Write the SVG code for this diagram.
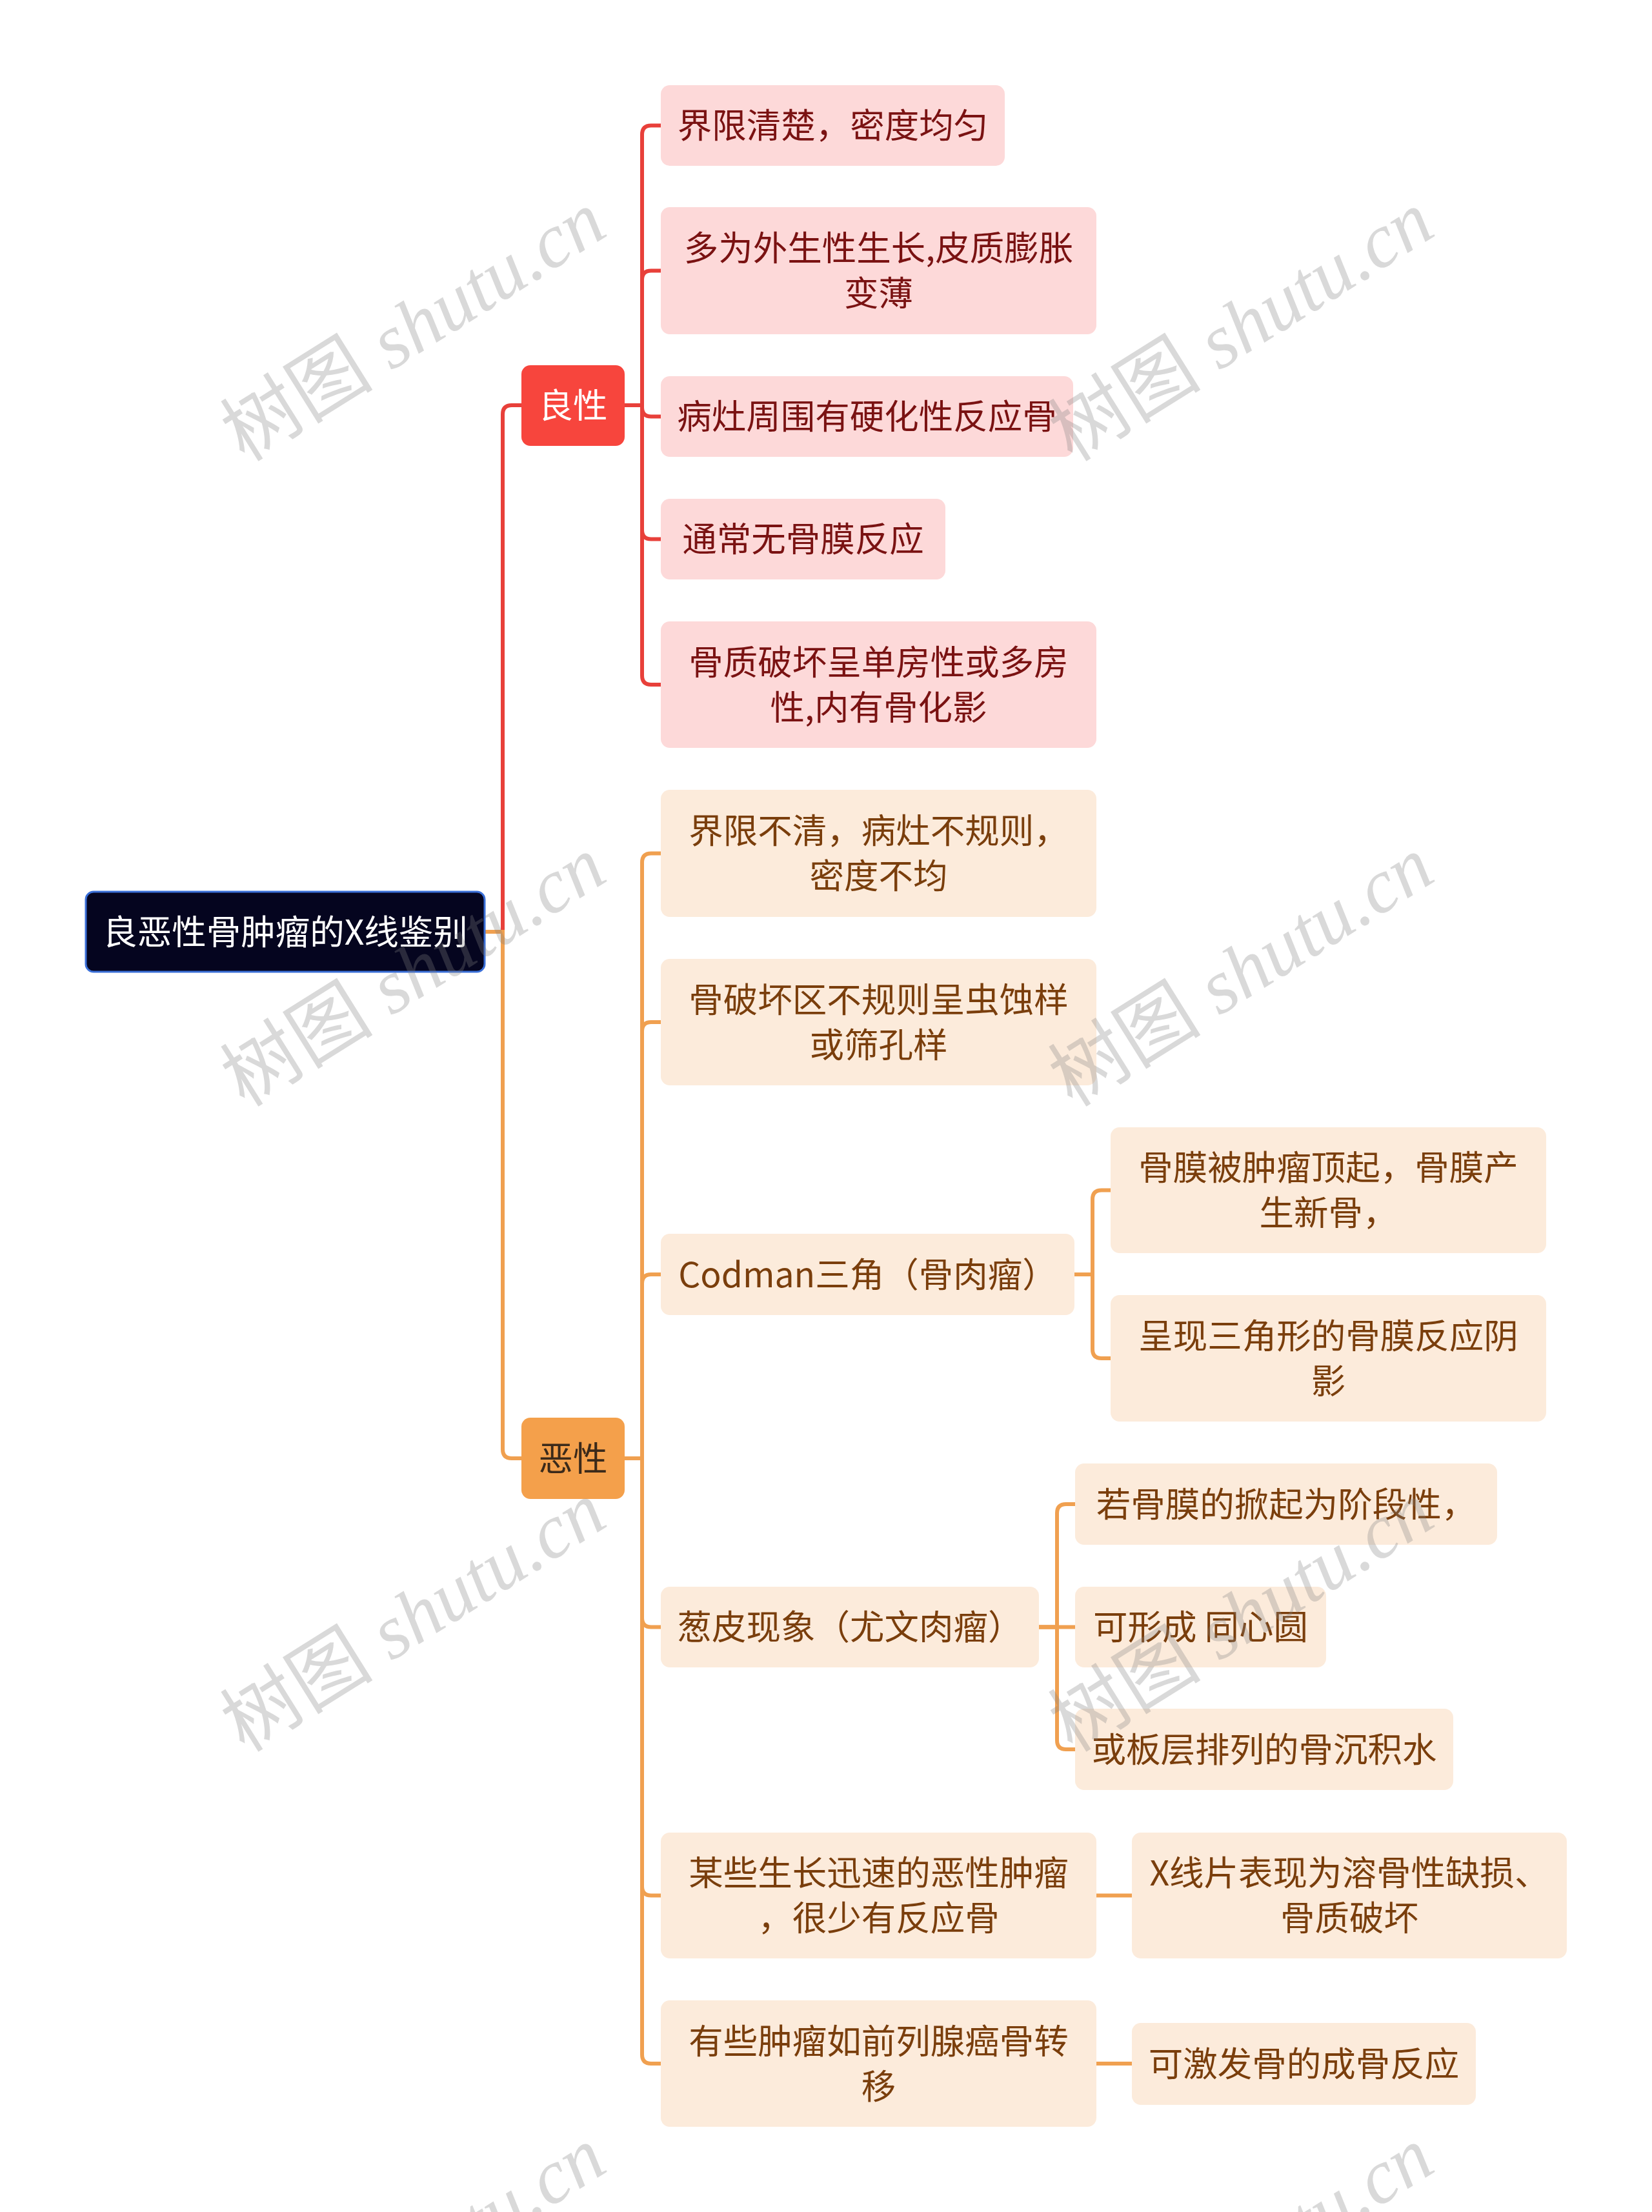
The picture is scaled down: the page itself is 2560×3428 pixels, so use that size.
<svg xmlns="http://www.w3.org/2000/svg" width="2560" height="3428" viewBox="0 0 2560 3428">
<style>
text{font-family:"Noto Sans CJK SC","Noto Sans",sans-serif;font-size:53.5px;text-anchor:middle}
.root rect{fill:#05051f;stroke:#3a6fd8;stroke-width:3}
.root text{fill:#ffffff}
.ben rect{fill:#f7453d}
.ben text{fill:#ffffff}
.mal rect{fill:#f4a04b}
.mal text{fill:#3b2a1a}
.bc rect{fill:#fdd9d9}
.bc text{fill:#7a1212}
.mc rect{fill:#fcebdb}
.mc text{fill:#7a3e0c}
.red{fill:none;stroke:#e8403a;stroke-width:6}
.ora{fill:none;stroke:#f0a050;stroke-width:6}
.wm{font-family:"Liberation Serif","Noto Sans CJK SC",serif;font-size:119px;fill:#808080;fill-opacity:0.3;text-anchor:middle}
</style>
<rect width="2560" height="3428" fill="#ffffff"/>
<g id="connectors">
<path class="red" d="M751,1444 H779 V642 Q779,628 793,628 H808"/>
<path class="ora" d="M751,1444 H779 V2246 Q779,2260 793,2260 H808"/>
<path class="red" d="M968,628 H995 V208.5 Q995,194.5 1009,194.5 H1024"/>
<path class="red" d="M968,628 H995 V433.5 Q995,419.5 1009,419.5 H1024"/>
<path class="red" d="M968,628 H995 V631.5 Q995,645.5 1009,645.5 H1024"/>
<path class="red" d="M968,628 H995 V821.5 Q995,835.5 1009,835.5 H1024"/>
<path class="red" d="M968,628 H995 V1047 Q995,1061 1009,1061 H1024"/>
<path class="ora" d="M968,2260 H995 V1336.5 Q995,1322.5 1009,1322.5 H1024"/>
<path class="ora" d="M968,2260 H995 V1598 Q995,1584 1009,1584 H1024"/>
<path class="ora" d="M968,2260 H995 V1989 Q995,1975 1009,1975 H1024"/>
<path class="ora" d="M968,2260 H995 V2507.5 Q995,2521.5 1009,2521.5 H1024"/>
<path class="ora" d="M968,2260 H995 V2923.5 Q995,2937.5 1009,2937.5 H1024"/>
<path class="ora" d="M968,2260 H995 V3184 Q995,3198 1009,3198 H1024"/>
<path class="ora" d="M1665,1975 H1693 V1858.5 Q1693,1844.5 1707,1844.5 H1721"/>
<path class="ora" d="M1665,1975 H1693 V2091 Q1693,2105 1707,2105 H1721"/>
<path class="ora" d="M1610,2521.5 H1638 V2345 Q1638,2331 1652,2331 H1666"/>
<path class="ora" d="M1610,2521.5 H1666"/>
<path class="ora" d="M1610,2521.5 H1638 V2697 Q1638,2711 1652,2711 H1666"/>
<path class="ora" d="M1699,2937.5 H1754"/>
<path class="ora" d="M1699,3198 H1754"/>
</g>
<g id="root" class="root"><rect x="133" y="1382" width="618" height="124" rx="12"/><text x="442" y="1463.5">良恶性骨肿瘤的X线鉴别</text></g>
<g id="benign" class="ben"><rect x="808" y="566" width="160" height="125" rx="14"/><text x="888" y="648">良性</text></g>
<g id="malignant" class="mal"><rect x="808" y="2197" width="160" height="126" rx="14"/><text x="888" y="2280">恶性</text></g>
<g id="b1" class="bc"><rect x="1024" y="132" width="533" height="125" rx="14"/><text x="1290.5" y="214">界限清楚，密度均匀</text></g>
<g id="b2" class="bc"><rect x="1024" y="321" width="675" height="197" rx="14"/><text x="1361.5" y="404">多为外生性生长,皮质膨胀</text><text x="1361.5" y="474">变薄</text></g>
<g id="b3" class="bc"><rect x="1024" y="583" width="639" height="125" rx="14"/><text x="1343.5" y="665">病灶周围有硬化性反应骨</text></g>
<g id="b4" class="bc"><rect x="1024" y="773" width="441" height="125" rx="14"/><text x="1244.5" y="855">通常无骨膜反应</text></g>
<g id="b5" class="bc"><rect x="1024" y="963" width="675" height="196" rx="14"/><text x="1361.5" y="1045.5">骨质破坏呈单房性或多房</text><text x="1361.5" y="1115.5">性,内有骨化影</text></g>
<g id="m1" class="mc"><rect x="1024" y="1224" width="675" height="197" rx="14"/><text x="1361.5" y="1307">界限不清，病灶不规则，</text><text x="1361.5" y="1377">密度不均</text></g>
<g id="m2" class="mc"><rect x="1024" y="1486" width="675" height="196" rx="14"/><text x="1361.5" y="1568.5">骨破坏区不规则呈虫蚀样</text><text x="1361.5" y="1638.5">或筛孔样</text></g>
<g id="m3" class="mc"><rect x="1024" y="1912" width="641" height="126" rx="14"/><text x="1344.5" y="1994.5">Codman三角（骨肉瘤）</text></g>
<g id="m3a" class="mc"><rect x="1721" y="1747" width="675" height="195" rx="14"/><text x="2058.5" y="1829">骨膜被肿瘤顶起，骨膜产</text><text x="2058.5" y="1899">生新骨，</text></g>
<g id="m3b" class="mc"><rect x="1721" y="2007" width="675" height="196" rx="14"/><text x="2058.5" y="2089.5">呈现三角形的骨膜反应阴</text><text x="2058.5" y="2159.5">影</text></g>
<g id="m4" class="mc"><rect x="1024" y="2459" width="586" height="125" rx="14"/><text x="1317" y="2541">葱皮现象（尤文肉瘤）</text></g>
<g id="m4a" class="mc"><rect x="1666" y="2268" width="654" height="126" rx="14"/><text x="1993" y="2350.5">若骨膜的掀起为阶段性，</text></g>
<g id="m4b" class="mc"><rect x="1666" y="2459" width="389" height="125" rx="14"/><text x="1860.5" y="2541">可形成 同心圆</text></g>
<g id="m4c" class="mc"><rect x="1666" y="2648" width="586" height="126" rx="14"/><text x="1959" y="2730.5">或板层排列的骨沉积水</text></g>
<g id="m5" class="mc"><rect x="1024" y="2840" width="675" height="195" rx="14"/><text x="1361.5" y="2922">某些生长迅速的恶性肿瘤</text><text x="1361.5" y="2992">，很少有反应骨</text></g>
<g id="m5a" class="mc"><rect x="1754" y="2840" width="674" height="195" rx="14"/><text x="2091" y="2922">X线片表现为溶骨性缺损、</text><text x="2091" y="2992">骨质破坏</text></g>
<g id="m6" class="mc"><rect x="1024" y="3100" width="675" height="196" rx="14"/><text x="1361.5" y="3182.5">有些肿瘤如前列腺癌骨转</text><text x="1361.5" y="3252.5">移</text></g>
<g id="m6a" class="mc"><rect x="1754" y="3135" width="533" height="127" rx="14"/><text x="2020.5" y="3218">可激发骨的成骨反应</text></g>
<g id="watermarks">
<text class="wm" transform="translate(662,540) rotate(-32)">树图 <tspan font-style="italic">shutu.cn</tspan></text>
<text class="wm" transform="translate(1945,540) rotate(-32)">树图 <tspan font-style="italic">shutu.cn</tspan></text>
<text class="wm" transform="translate(662,1540) rotate(-32)">树图 <tspan font-style="italic">shutu.cn</tspan></text>
<text class="wm" transform="translate(1945,1540) rotate(-32)">树图 <tspan font-style="italic">shutu.cn</tspan></text>
<text class="wm" transform="translate(662,2540) rotate(-32)">树图 <tspan font-style="italic">shutu.cn</tspan></text>
<text class="wm" transform="translate(1945,2540) rotate(-32)">树图 <tspan font-style="italic">shutu.cn</tspan></text>
<text class="wm" transform="translate(662,3540) rotate(-32)">树图 <tspan font-style="italic">shutu.cn</tspan></text>
<text class="wm" transform="translate(1945,3540) rotate(-32)">树图 <tspan font-style="italic">shutu.cn</tspan></text>
</g>
</svg>
